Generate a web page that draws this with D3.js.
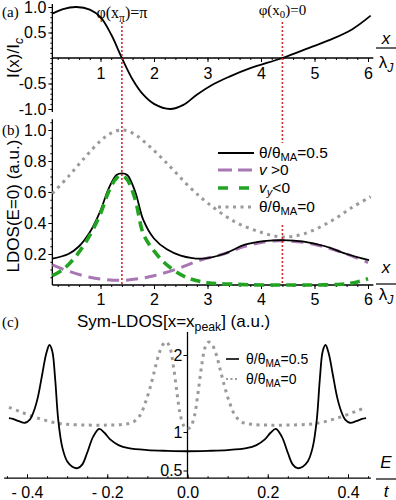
<!DOCTYPE html>
<html>
<head>
<meta charset="utf-8">
<script src="https://cdn.jsdelivr.net/npm/d3@7"></script>
<style>
  body { margin: 0; background: #fff; }
  text { font-family: "Liberation Sans", Arial, sans-serif; fill: #000; }
  .serif { font-family: "Liberation Serif", "Times New Roman", serif; }
</style>
</head>
<body>
<div id="root"></div>
<script>
// ---- data ----
const xTicks = [1, 2, 3, 4, 5, 6];
const aYTicks = [-1, -0.5, 0.5, 1];
const aYLabels = ['-1.0', '-0.5', '0.5', '1.0'];
const bYTicks = [0.2, 0.4, 0.6, 0.8, 1.0];
const bYLabels = ['0.2', '0.4', '0.6', '0.8', '1.0'];
const cXTicks = [-0.4, -0.2, 0, 0.2, 0.4];
const cXLabels = ['- 0.4', '- 0.2', '0.0', '0.2', '0.4'];
const cYTicks = [0.5, 1, 2];
const cYLabels = ['0.5', '1', '2'];
const markers = [1.4, 4.4];

// (a) current
const aX = [0.1, 0.3, 0.55, 0.8, 1.0, 1.2, 1.4, 1.6, 1.8, 2.0, 2.3, 2.55, 2.8, 3.1, 3.4, 3.8, 4.4, 4.9, 5.3, 5.7, 6.05];
const aI = [0.87, 0.96, 1.0, 0.95, 0.8, 0.46, 0.0, -0.42, -0.72, -0.9, -1.0, -0.92, -0.72, -0.52, -0.37, -0.2, 0.0, 0.2, 0.36, 0.56, 0.83];

// (b) LDOS(E=0)
const bBlackX = [0.1, 0.4, 0.6, 0.8, 1.0, 1.15, 1.3, 1.4, 1.5, 1.65, 1.8, 2.0, 2.24, 2.5, 2.9, 3.3, 3.7, 4.1, 4.4, 4.8, 5.2, 5.6, 6.02];
const bBlack = [0.17, 0.2, 0.25, 0.34, 0.48, 0.62, 0.71, 0.72, 0.71, 0.6, 0.42, 0.3, 0.23, 0.19, 0.17, 0.2, 0.26, 0.285, 0.29, 0.28, 0.25, 0.2, 0.16];
const bPurpleX = [0.1, 0.4, 0.8, 1.1, 1.4, 1.7, 2.0, 2.4, 2.86, 3.3, 3.7, 4.1, 4.4, 4.8, 5.2, 5.6, 6.0];
const bPurple = [0.13, 0.09, 0.05, 0.035, 0.03, 0.04, 0.06, 0.1, 0.16, 0.2, 0.25, 0.28, 0.285, 0.275, 0.245, 0.2, 0.145];
const bGreenX = [0.1, 0.3, 0.55, 0.8, 1.0, 1.15, 1.3, 1.4, 1.5, 1.65, 1.8, 2.0, 2.24, 2.6, 3.0, 3.5, 4.0, 4.5, 5.0, 5.5, 5.8, 6.0];
const bGreen = [0.06, 0.1, 0.19, 0.32, 0.46, 0.6, 0.69, 0.705, 0.68, 0.55, 0.33, 0.22, 0.13, 0.05, 0.015, 0.005, 0, 0, 0, 0.005, 0.02, 0.04];
const bGrayX = [0.1, 0.4, 0.7, 1.0, 1.2, 1.4, 1.6, 1.8, 2.2, 2.67, 3.0, 3.5, 4.0, 4.4, 4.8, 5.3, 5.7, 6.05];
const bGray = [0.59, 0.7, 0.82, 0.93, 0.98, 1.0, 0.98, 0.93, 0.8, 0.63, 0.53, 0.41, 0.34, 0.31, 0.33, 0.41, 0.5, 0.57];

// (c) Sym-LDOS at x_peak
const cBlackE = [-0.445, -0.435, -0.42, -0.405, -0.393, -0.383, -0.373, -0.362, -0.352, -0.344, -0.337, -0.33, -0.322, -0.312, -0.3, -0.287, -0.274, -0.262, -0.25, -0.235, -0.22, -0.207, -0.192, -0.172, -0.147, -0.1, -0.05,
  0, 0.05, 0.1, 0.147, 0.172, 0.192, 0.207, 0.22, 0.235, 0.25, 0.262, 0.274, 0.287, 0.3, 0.312, 0.322, 0.33, 0.337, 0.344, 0.352, 0.362, 0.373, 0.383, 0.393, 0.405, 0.42, 0.435, 0.445];
const cBlack = [1.18, 1.17, 1.14, 1.12, 1.16, 1.27, 1.45, 1.75, 2.02, 2.13, 2.05, 1.7, 1.15, 0.8, 0.62, 0.55, 0.53, 0.58, 0.73, 0.94, 1.04, 0.99, 0.9, 0.83, 0.79, 0.765, 0.755,
  0.75, 0.755, 0.765, 0.79, 0.83, 0.9, 0.99, 1.04, 0.94, 0.73, 0.58, 0.53, 0.55, 0.62, 0.8, 1.15, 1.7, 2.05, 2.13, 2.02, 1.75, 1.45, 1.27, 1.16, 1.12, 1.14, 1.17, 1.18];
const cGrayE = [-0.445, -0.42, -0.39, -0.36, -0.33, -0.3, -0.25, -0.2, -0.16, -0.135, -0.118, -0.105, -0.093, -0.082, -0.072, -0.062, -0.053, -0.044, -0.035, -0.026, -0.017, -0.008,
  0, 0.008, 0.017, 0.026, 0.035, 0.044, 0.053, 0.062, 0.072, 0.082, 0.093, 0.105, 0.118, 0.135, 0.16, 0.2, 0.25, 0.3, 0.33, 0.36, 0.39, 0.42, 0.445];
const cGray = [1.32, 1.27, 1.21, 1.16, 1.12, 1.1, 1.09, 1.09, 1.1, 1.13, 1.22, 1.38, 1.58, 1.8, 2.0, 2.13, 2.17, 2.1, 1.85, 1.5, 1.2, 1.07,
  1.04, 1.07, 1.2, 1.5, 1.85, 2.1, 2.17, 2.13, 2.0, 1.8, 1.58, 1.38, 1.22, 1.13, 1.1, 1.09, 1.09, 1.1, 1.12, 1.16, 1.21, 1.27, 1.32];

const zip = (xs, ys) => xs.map((x, i) => [x, ys[i]]);

const svg = d3.select('#root')
  .append('svg')
  .attr('width', 396)
  .attr('height', 500);

// scales
const x = d3.scaleLinear().domain([0, 6]).range([47, 368]);
const yA = d3.scaleLinear().domain([-1, 1]).range([109, 7]);
const yB = d3.scaleLinear().domain([0, 1]).range([285, 130]);
const xC = d3.scaleLinear().domain([-0.4, 0.4]).range([27, 348]);
const yC = d3.scaleLinear().domain([1, 2]).range([432, 355]);

// rich text helper: parts = [[text, style]] with style '', 'sub', 'i', 'isub'
function rich(g, px, py, parts, size, anchor) {
  const t = g.append('text')
    .attr('x', px).attr('y', py)
    .attr('font-size', size)
    .attr('text-anchor', anchor || 'start');
  let shifted = false;
  parts.forEach(([s, st]) => {
    const sub = st === 'sub' || st === 'isub';
    const ts = t.append('tspan').text(s);
    if (sub && !shifted) { ts.attr('dy', size * 0.22); shifted = true; }
    if (!sub && shifted) { ts.attr('dy', -size * 0.22); shifted = false; }
    if (sub) ts.attr('font-size', size * 0.72);
    if (st === 'i' || st === 'isub') ts.attr('font-style', 'italic');
  });
  return t;
}

function styleAxis(g, size) {
  g.select('.domain').remove();
  g.selectAll('line').attr('stroke', '#000').attr('stroke-width', 1);
  g.selectAll('text').attr('font-size', size).attr('font-family', '"Liberation Sans", Arial, sans-serif');
}

function axisLine(x1, y1, x2, y2) {
  svg.append('line')
    .attr('x1', x1).attr('y1', y1).attr('x2', x2).attr('y2', y2)
    .attr('stroke', '#000').attr('stroke-width', 1.3);
}

function fraction(cx, top, bar, bottom, num, den) {
  rich(svg, cx, top, num, 17, 'middle');
  svg.append('line')
    .attr('x1', cx - 10).attr('x2', cx + 10)
    .attr('y1', bar).attr('y2', bar)
    .attr('stroke', '#000').attr('stroke-width', 1.2);
  rich(svg, cx, bottom, den, 17, 'middle');
}

const line = (sx, sy) => d3.line()
  .x(d => sx(d[0]))
  .y(d => sy(d[1]))
  .curve(d3.curveCatmullRom.alpha(0.5));

////// PANEL (a) //////
const aZero = yA(0);
axisLine(x(0.1), aZero, x(6.1), aZero);
axisLine(x(0.1), yA(-1.06), x(0.1), yA(1.06));

svg.append('g')
  .attr('transform', `translate(0,${aZero})`)
  .call(d3.axisBottom(x).tickValues(d3.range(0.2, 6.01, 0.2)).tickSize(2).tickFormat(''))
  .call(g => styleAxis(g, 16));
svg.append('g')
  .attr('transform', `translate(0,${aZero})`)
  .call(d3.axisBottom(x).tickValues(xTicks).tickSize(4).tickPadding(6).tickFormat(d3.format('d')))
  .call(g => styleAxis(g, 16));

svg.append('g')
  .attr('transform', `translate(${x(0.1)},0)`)
  .call(d3.axisLeft(yA).tickValues(d3.range(-1, 1.01, 0.1)).tickSize(2).tickFormat(''))
  .call(g => styleAxis(g, 16));
svg.append('g')
  .attr('transform', `translate(${x(0.1)},0)`)
  .call(d3.axisLeft(yA).tickValues(aYTicks).tickSize(4).tickPadding(2)
    .tickFormat((d, i) => aYLabels[i]))
  .call(g => styleAxis(g, 16));

svg.append('path')
  .datum(zip(aX, aI))
  .attr('d', line(x, yA))
  .attr('fill', 'none')
  .attr('stroke', '#000')
  .attr('stroke-width', 1.8);

rich(svg, 0, 0, [['I(x)/I', ''], ['c', 'isub']], 17, 'middle')
  .attr('transform', `translate(19,${aZero}) rotate(-90)`);

fraction(386, 44, 48, 68, [['x', 'i']], [['λ', ''], ['J', 'isub']]);

////// PANEL (b) //////
const bZero = yB(0);
axisLine(x(0.1), bZero, x(6.1), bZero);
axisLine(x(0.1), bZero, x(0.1), yB(1.07));

svg.append('g')
  .attr('transform', `translate(0,${bZero})`)
  .call(d3.axisBottom(x).tickValues(d3.range(0.2, 6.01, 0.2)).tickSize(2).tickFormat(''))
  .call(g => styleAxis(g, 16));
svg.append('g')
  .attr('transform', `translate(0,${bZero})`)
  .call(d3.axisBottom(x).tickValues(xTicks).tickSize(4).tickPadding(5).tickFormat(d3.format('d')))
  .call(g => styleAxis(g, 16));

svg.append('g')
  .attr('transform', `translate(${x(0.1)},0)`)
  .call(d3.axisLeft(yB).tickValues(d3.range(0.05, 1.051, 0.05)).tickSize(2).tickFormat(''))
  .call(g => styleAxis(g, 16));
svg.append('g')
  .attr('transform', `translate(${x(0.1)},0)`)
  .call(d3.axisLeft(yB).tickValues(bYTicks).tickSize(4).tickPadding(2)
    .tickFormat((d, i) => bYLabels[i]))
  .call(g => styleAxis(g, 16));

const bSeries = [
  {data: zip(bGrayX, bGray), color: '#9a9a9a', width: 3, dash: '3,4.5'},
  {data: zip(bPurpleX, bPurple), color: '#a877b3', width: 3, dash: '12,7'},
  {data: zip(bBlackX, bBlack), color: '#000', width: 1.8, dash: null},
  {data: zip(bGreenX, bGreen), color: '#22a422', width: 3.6, dash: '10,6'}
];

svg.append('g').selectAll('path')
  .data(bSeries)
  .enter()
    .append('path')
    .attr('d', d => line(x, yB)(d.data))
    .attr('fill', 'none')
    .attr('stroke', d => d.color)
    .attr('stroke-width', d => d.width)
    .attr('stroke-dasharray', d => d.dash);

rich(svg, 0, 0, [['LDOS(E=0) (a.u.)', '']], 17, 'middle')
  .attr('transform', `translate(19,206) rotate(-90)`);

fraction(386, 273, 284, 300, [['x', 'i']], [['λ', ''], ['J', 'isub']]);

// legend (b)
const legB = [
  {label: [['θ/θ', ''], ['MA', 'sub'], ['=0.5', '']], color: '#000', width: 1.8, dash: null, y: 153},
  {label: [['v', 'i'], [' >0', '']], color: '#a877b3', width: 3, dash: '14,6', y: 170},
  {label: [['v', 'i'], ['y', 'isub'], ['<0', '']], color: '#22a422', width: 3.6, dash: '10,11', y: 188},
  {label: [['θ/θ', ''], ['MA', 'sub'], ['=0', '']], color: '#9a9a9a', width: 3, dash: '3,4.5', y: 207}
];
legB.forEach(d => {
  svg.append('line')
    .attr('x1', 218).attr('x2', 254)
    .attr('y1', d.y).attr('y2', d.y)
    .attr('stroke', d.color)
    .attr('stroke-width', d.width)
    .attr('stroke-dasharray', d.dash);
  rich(svg, 259, d.y + 5, d.label, 15.5);
});

// red markers
const redLines = [
  [markers[0], 22, bZero],
  [markers[1], 22, 143],
  [markers[1], 225, bZero]
];
svg.append('g').selectAll('line')
  .data(redLines)
  .enter()
    .append('line')
    .attr('x1', d => x(d[0])).attr('x2', d => x(d[0]))
    .attr('y1', d => d[1]).attr('y2', d => d[2])
    .attr('stroke', '#d42a2a')
    .attr('stroke-width', 1.6)
    .attr('stroke-dasharray', '2,2');

rich(svg, x(markers[0]), 18, [['φ(x', ''], ['π', 'sub'], [')=π', '']], 16, 'middle').classed('serif', true);
rich(svg, x(markers[1]), 15, [['φ(x', ''], ['0', 'sub'], [')=0', '']], 15, 'middle').classed('serif', true);

svg.append('text').attr('class', 'serif').attr('x', 2).attr('y', 17).attr('font-size', 15).text('(a)');
svg.append('text').attr('class', 'serif').attr('x', 2).attr('y', 135).attr('font-size', 15).text('(b)');
svg.append('text').attr('class', 'serif').attr('x', 2).attr('y', 327).attr('font-size', 15).text('(c)');

////// PANEL (c) //////
const cBase = yC(0.4);
const cZero = xC(0);
axisLine(xC(-0.457), cBase, xC(0.457), cBase);
axisLine(cZero, cBase, cZero, yC(2.3));

svg.append('g')
  .attr('transform', `translate(0,${cBase})`)
  .call(d3.axisTop(xC).tickValues(d3.range(-0.45, 0.451, 0.05)).tickSize(2).tickFormat(''))
  .call(g => styleAxis(g, 16));
svg.append('g')
  .attr('transform', `translate(0,${cBase})`)
  .call(d3.axisBottom(xC).tickValues(cXTicks).tickSize(0).tickPadding(8)
    .tickFormat((d, i) => cXLabels[i]))
  .call(g => styleAxis(g, 16));
svg.append('g')
  .attr('transform', `translate(0,${cBase})`)
  .call(d3.axisTop(xC).tickValues(cXTicks).tickSize(4).tickFormat(''))
  .call(g => styleAxis(g, 16));

svg.append('g')
  .attr('transform', `translate(${cZero},0)`)
  .call(d3.axisLeft(yC).tickValues(cYTicks).tickSize(4).tickPadding(1)
    .tickFormat((d, i) => cYLabels[i]))
  .call(g => styleAxis(g, 16));

const cSeries = [
  {data: zip(cGrayE, cGray), color: '#9a9a9a', width: 3, dash: '3,4.5'},
  {data: zip(cBlackE, cBlack), color: '#000', width: 1.8, dash: null}
];
svg.append('g').selectAll('path')
  .data(cSeries)
  .enter()
    .append('path')
    .attr('d', d => line(xC, yC)(d.data))
    .attr('fill', 'none')
    .attr('stroke', d => d.color)
    .attr('stroke-width', d => d.width)
    .attr('stroke-dasharray', d => d.dash);

rich(svg, 77, 327, [['Sym-LDOS[x=x', ''], ['peak', 'sub'], ['] (a.u.)', '']], 17);

fraction(386, 468, 479, 497, [['E', 'i']], [['t', 'i']]);

const legC = [
  {label: [['θ/θ', ''], ['MA', 'sub'], ['=0.5', '']], color: '#000', width: 1.6, dash: null, y: 359},
  {label: [['θ/θ', ''], ['MA', 'sub'], ['=0', '']], color: '#9a9a9a', width: 2, dash: '2,2.5', y: 379}
];
legC.forEach(d => {
  svg.append('line')
    .attr('x1', 226).attr('x2', 239)
    .attr('y1', d.y).attr('y2', d.y)
    .attr('stroke', d.color)
    .attr('stroke-width', d.width)
    .attr('stroke-dasharray', d.dash);
  rich(svg, 246, d.y + 5, d.label, 14);
});
</script>
</body>
</html>
